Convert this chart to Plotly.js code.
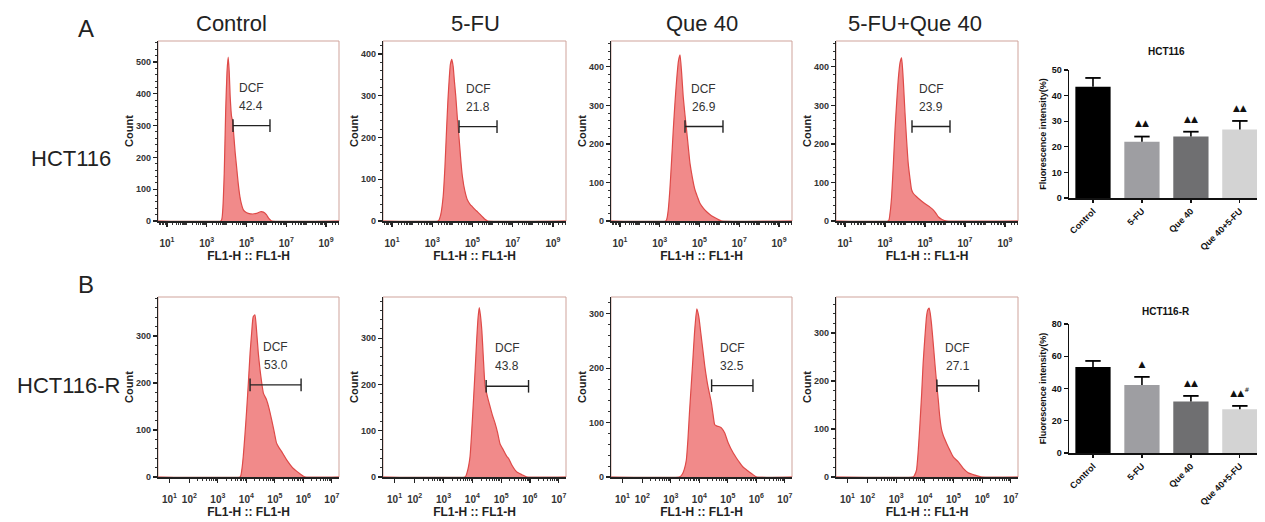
<!DOCTYPE html>
<html>
<head>
<meta charset="utf-8">
<script src="https://cdn.plot.ly/plotly-3.0.1.min.js"></script>
<style>html,body{margin:0;padding:0;background:#fff;}#chart{width:1265px;height:522px;}</style>
</head>
<body>
<div id="chart"></div>
<script>
// ---------- DATA ----------
const columnTitles = ["Control", "5-FU", "Que 40", "5-FU+Que 40"];
const rowTitles = ["HCT116", "HCT116-R"];
const panelLetters = ["A", "B"];

// Histograms: x = log10(FL1-H), y = Count
const hct116ControlX = [0.55, 3.72, 3.8, 3.88, 3.95, 4.02, 4.08, 4.13, 4.18, 4.25, 4.3, 4.36, 4.43, 4.5, 4.58, 4.67, 4.75, 4.84, 4.95, 5.09, 5.3, 5.5, 5.7, 5.85, 6.0, 6.12, 6.26, 9.65];
const hct116ControlY = [0, 0, 30, 150, 340, 470, 515, 470, 390, 328, 315, 270, 215, 171, 120, 76, 52, 35, 28, 24, 22, 24, 29, 28, 20, 8, 0, 0];
const hct116FuX = [0.55, 3.3, 3.42, 3.54, 3.63, 3.71, 3.78, 3.84, 3.9, 3.97, 4.04, 4.1, 4.17, 4.25, 4.34, 4.42, 4.5, 4.62, 4.75, 4.88, 5.0, 5.12, 5.25, 5.38, 5.5, 5.62, 5.75, 9.65];
const hct116FuY = [0, 0, 15, 58, 130, 218, 290, 338, 375, 387, 370, 335, 298, 245, 194, 145, 106, 72, 50, 40, 34, 28, 22, 16, 10, 4, 0, 0];
const hct116QueX = [0.55, 3.31, 3.42, 3.51, 3.6, 3.68, 3.77, 3.85, 3.94, 4.02, 4.1, 4.18, 4.27, 4.35, 4.44, 4.52, 4.65, 4.77, 4.9, 5.02, 5.2, 5.36, 5.52, 5.69, 5.9, 6.11, 9.65];
const hct116QueY = [0, 0, 25, 81, 160, 236, 310, 366, 415, 431, 385, 323, 275, 236, 190, 150, 110, 81, 62, 46, 33, 24, 17, 11, 5, 0, 0];
const hct116ComboX = [0.55, 3.17, 3.25, 3.33, 3.42, 3.5, 3.58, 3.66, 3.75, 3.83, 3.92, 4.0, 4.08, 4.16, 4.25, 4.33, 4.41, 4.58, 4.75, 4.92, 5.08, 5.25, 5.41, 5.55, 5.66, 5.85, 6.08, 9.65];
const hct116ComboY = [0, 0, 20, 63, 150, 236, 305, 366, 410, 423, 360, 280, 210, 150, 110, 81, 72, 63, 55, 48, 42, 36, 29, 20, 11, 4, 0, 0];

const hctRControlX = [0.9, 3.78, 3.84, 3.89, 3.95, 4.01, 4.07, 4.13, 4.19, 4.24, 4.3, 4.36, 4.42, 4.48, 4.54, 4.6, 4.71, 4.8, 4.89, 4.98, 5.06, 5.15, 5.24, 5.33, 5.42, 5.54, 5.65, 5.77, 5.88, 6.06, 7.25];
const hctRControlY = [0, 0, 15, 43, 90, 142, 200, 263, 310, 341, 345, 310, 263, 228, 200, 178, 164, 145, 121, 95, 72, 62, 54, 45, 36, 26, 18, 12, 7, 0, 0];
const hctRFuX = [0.9, 3.75, 3.84, 3.92, 3.98, 4.04, 4.1, 4.15, 4.2, 4.24, 4.28, 4.33, 4.38, 4.44, 4.53, 4.62, 4.7, 4.79, 4.88, 4.96, 5.08, 5.2, 5.26, 5.37, 5.54, 5.72, 5.89, 7.25];
const hctRFuY = [0, 0, 15, 44, 100, 166, 235, 295, 345, 366, 350, 316, 260, 198, 172, 151, 133, 116, 95, 72, 58, 44, 40, 26, 11, 5, 0, 0];
const hctRQueX = [0.9, 3.3, 3.4, 3.47, 3.54, 3.6, 3.65, 3.71, 3.77, 3.83, 3.91, 3.98, 4.05, 4.12, 4.19, 4.3, 4.42, 4.48, 4.54, 4.6, 4.66, 4.72, 4.78, 4.89, 5.01, 5.19, 5.3, 5.42, 5.54, 5.66, 5.84, 6.01, 7.25];
const hctRQueY = [0, 0, 5, 14, 30, 70, 116, 165, 214, 265, 309, 295, 265, 235, 204, 167, 137, 115, 96, 94, 93, 92, 90, 81, 63, 44, 35, 26, 18, 13, 6, 0, 0];
const hctRComboX = [0.9, 3.59, 3.65, 3.71, 3.77, 3.83, 3.89, 3.94, 4.0, 4.06, 4.1, 4.15, 4.19, 4.23, 4.29, 4.35, 4.41, 4.47, 4.52, 4.58, 4.64, 4.76, 4.87, 4.99, 5.16, 5.34, 5.51, 5.74, 5.98, 7.25];
const hctRComboY = [0, 0, 5, 15, 55, 112, 175, 237, 290, 335, 348, 352, 340, 320, 280, 237, 196, 160, 126, 100, 87, 70, 56, 42, 32, 18, 9, 4, 0, 0];

// DCF gates (log10 FL1-H bounds, count level) and gated percentages
const gateLow = [[4.32, 4.33, 4.27, 4.35], [4.13, 4.48, 4.43, 4.42]];
const gateHigh = [[6.18, 6.22, 6.18, 6.25], [5.92, 5.95, 5.88, 5.88]];
const gateLevel = [[300, 226, 245, 245], [196, 196, 168, 190]];
const dcfPercent = [["42.4", "21.8", "26.9", "23.9"], ["53.0", "43.8", "32.5", "27.1"]];

// Axis tick labels
const topTickVals = [1, 3, 5, 7, 9];
const topTickText = ["10<sup>1</sup>", "10<sup>3</sup>", "10<sup>5</sup>", "10<sup>7</sup>", "10<sup>9</sup>"];
const botTickVals = [1.3, 2, 3, 4, 5, 6, 7];
const botTickText = ["10<sup>1</sup>", "10<sup>2</sup>", "10<sup>3</sup>", "10<sup>4</sup>", "10<sup>5</sup>", "10<sup>6</sup>", "10<sup>7</sup>"];

// Bar charts
const barCategories = ["Control", "5-FU", "Que 40", "Que 40+5-FU"];
const hct116Mean = [43.5, 22.0, 24.0, 26.8];
const hct116Err = [3.4, 2.0, 1.9, 3.3];
const hct116Sig = ["", "▲▲", "▲▲", "▲▲"];
const hctRMean = [53.4, 42.2, 31.9, 27.1];
const hctRErr = [3.7, 5.0, 3.5, 2.1];
const hctRSig = ["", "▲", "▲▲", "▲▲<sup>#</sup>"];
const barColors = ["#000000", "#9e9ea2", "#6f6f71", "#d3d3d3"];

// ---------- LAYOUT HELPERS ----------
const W = 1265, H = 522;
const px = v => v / W;
const py = v => 1 - v / H;
const FONT = "Liberation Sans, Arial, Helvetica, sans-serif";

const histX = [[hct116ControlX, hct116FuX, hct116QueX, hct116ComboX], [hctRControlX, hctRFuX, hctRQueX, hctRComboX]];
const histY = [[hct116ControlY, hct116FuY, hct116QueY, hct116ComboY], [hctRControlY, hctRFuY, hctRQueY, hctRComboY]];

const colPx = [[158, 339], [383, 566], [611, 792], [836, 1018]];
const rowPx = [[41, 221], [297, 477]];
const yTop = [[566, 431, 467, 467], [383, 389, 331, 375]];
const xRanges = [[0.55, 9.65], [0.9, 7.25]];

function minorTicks(lo, hi, startDec) {
  const out = [];
  for (let d = startDec; d <= 9; d++) {
    for (let k = 1; k <= 9; k++) {
      const v = d + Math.log10(k);
      if (v > lo && v < hi) out.push(v);
    }
  }
  return out;
}

const traces = [];
const layout = {
  width: W, height: H,
  margin: {l: 0, r: 0, t: 0, b: 0},
  paper_bgcolor: "#fff", plot_bgcolor: "#fff",
  showlegend: false,
  font: {family: FONT, color: "#222"},
  annotations: [], shapes: []
};

function paperText(x, y, text, font) {
  return {xref: "paper", yref: "paper", x: px(x), y: py(y), xanchor: "center", yanchor: "middle",
          text: text, showarrow: false, font: font};
}

let ax = 0;
for (let r = 0; r < 2; r++) {
  for (let c = 0; c < 4; c++) {
    ax++;
    const xn = ax === 1 ? "x" : "x" + ax;
    const yn = ax === 1 ? "y" : "y" + ax;
    const xk = ax === 1 ? "xaxis" : "xaxis" + ax;
    const yk = ax === 1 ? "yaxis" : "yaxis" + ax;

    traces.push({
      type: "scatter", mode: "lines", x: histX[r][c], y: histY[r][c],
      xaxis: xn, yaxis: yn, fill: "tozeroy",
      fillcolor: "rgba(240,125,125,0.9)",
      line: {color: "#de4a48", width: 1.2, shape: "spline", smoothing: 0.5},
      hoverinfo: "skip"
    });
    // gate
    traces.push({
      type: "scatter", mode: "lines+markers",
      x: [gateLow[r][c], gateHigh[r][c]], y: [gateLevel[r][c], gateLevel[r][c]],
      xaxis: xn, yaxis: yn,
      line: {color: "#222", width: 1.4},
      marker: {symbol: "line-ns-open", size: 9, color: "#222", line: {color: "#222", width: 1.4}},
      hoverinfo: "skip"
    });
    const gx = (gateLow[r][c] + gateHigh[r][c]) / 2;
    layout.annotations.push({
      xref: xn, yref: yn, x: gx, y: gateLevel[r][c], text: "DCF", xanchor: "center", yanchor: "middle",
      showarrow: false, yshift: 38, font: {size: 12, color: "#333", family: FONT}
    });
    layout.annotations.push({
      xref: xn, yref: yn, x: gx, y: gateLevel[r][c], text: dcfPercent[r][c], xanchor: "center", yanchor: "middle",
      showarrow: false, yshift: 20, font: {size: 12, color: "#333", family: FONT}
    });

    const isTop = r === 0;
    layout[xk] = {
      domain: [px(colPx[c][0]), px(colPx[c][1])],
      anchor: yn, range: xRanges[r],
      tickmode: "array",
      tickvals: isTop ? topTickVals : botTickVals,
      ticktext: isTop ? topTickText : botTickText,
      ticks: "outside", ticklen: 4, tickwidth: 1.2, tickcolor: "#222",
      ticklabelstandoff: 8,
      minor: {tickmode: "array", tickvals: minorTicks(xRanges[r][0], xRanges[r][1], isTop ? 0 : 2), ticks: "outside", ticklen: 2, tickwidth: 1, tickcolor: "#333"},
      showline: true, linecolor: "#222", linewidth: 1.5,
      showgrid: false, zeroline: false, layer: "below traces",
      tickfont: {family: FONT, size: 10, color: "#333", weight: 700},
      title: {text: "FL1-H :: FL1-H", font: {family: FONT, size: 12, color: "#222", weight: 700}, standoff: 4},
      fixedrange: true
    };
    layout[yk] = {
      domain: [py(rowPx[r][1]), py(rowPx[r][0])],
      anchor: xn, range: [0, yTop[r][c]],
      dtick: 100, tick0: 0,
      ticks: "outside", ticklen: 4, tickwidth: 1.2, tickcolor: "#222",
      minor: {dtick: 20, ticks: "outside", ticklen: 2, tickwidth: 1, tickcolor: "#333"},
      showline: true, linecolor: "#222", linewidth: 1.2,
      showgrid: false, zeroline: false, layer: "below traces",
      tickfont: {family: FONT, size: 9, color: "#333", weight: 700},
      title: {text: "Count", font: {family: FONT, size: 11, color: "#222", weight: 700}, standoff: 0},
      fixedrange: true
    };
    layout.shapes.push({
      type: "rect", xref: xn + " domain", yref: yn + " domain",
      x0: 0, x1: 1, y0: 0, y1: 1, line: {color: "#cfa39b", width: 1}, layer: "below"
    });
  }
}

// Column titles, row titles, panel letters
const colCenters = [231, 475, 702, 915];
columnTitles.forEach((t, i) => layout.annotations.push(
  paperText(colCenters[i], 23, t, {size: 22, color: "#222", family: FONT})));
const rowCenters = [[71, 158], [69, 385]];
rowTitles.forEach((t, i) => layout.annotations.push(
  paperText(rowCenters[i][0], rowCenters[i][1], t, {size: 22, color: "#222", family: FONT})));
const letterY = [28, 284];
panelLetters.forEach((t, i) => layout.annotations.push(
  paperText(86, letterY[i], t, {size: 24, color: "#222", family: FONT})));

// ---------- BAR CHARTS ----------
const barSets = [
  {mean: hct116Mean, err: hct116Err, sig: hct116Sig, title: "HCT116", y: [70, 198], range: [0, 50], dtick: 10, titleY: 51},
  {mean: hctRMean, err: hctRErr, sig: hctRSig, title: "HCT116-R", y: [324, 453], range: [0, 80], dtick: 20, titleY: 311}
];
barSets.forEach((b, i) => {
  ax++;
  const xn = "x" + ax, yn = "y" + ax;
  traces.push({
    type: "bar", x: barCategories, y: b.mean, xaxis: xn, yaxis: yn,
    marker: {color: barColors, line: {width: 0}}, hoverinfo: "skip"
  });
  traces.push({
    type: "scatter", mode: "markers+text", x: barCategories,
    y: b.mean.map((m, k) => m + b.err[k]), xaxis: xn, yaxis: yn,
    marker: {symbol: "line-ew-open", size: 11, color: "#000", line: {color: "#000", width: 1.8}},
    error_y: {type: "data", symmetric: false, array: b.err.map(() => 0), arrayminus: b.err, width: 0, thickness: 1.6, color: "#000"},
    text: b.sig, textposition: "top center",
    textfont: {family: "DejaVu Sans, sans-serif", size: 9, color: "#111"},
    hoverinfo: "skip"
  });
  layout["xaxis" + ax] = {
    domain: [px(1069), px(1257)], anchor: yn, range: [-0.49, 3.35],
    tickangle: -45, ticks: "outside", ticklen: 3, tickwidth: 1.2, tickcolor: "#111",
    showline: true, linecolor: "#111", linewidth: 1.5, showgrid: false, zeroline: false,
    tickfont: {family: FONT, size: 9, color: "#111", weight: 700}, fixedrange: true
  };
  layout["yaxis" + ax] = {
    domain: [py(b.y[1]), py(b.y[0])], anchor: xn, range: b.range, dtick: b.dtick,
    ticks: "outside", ticklen: 4, tickwidth: 1.2, tickcolor: "#111",
    showline: true, linecolor: "#111", linewidth: 1.5, showgrid: false, zeroline: false,
    tickfont: {family: FONT, size: 9, color: "#111", weight: 700},
    title: {text: "Fluorescence intensity(%)", font: {family: FONT, size: 9, color: "#111", weight: 700}, standoff: 3},
    fixedrange: true
  };
  layout.annotations.push(paperText(1166, b.titleY, b.title, {family: FONT, size: 10, color: "#111", weight: 700}));
});
layout.bargap = 0.28;

Plotly.newPlot("chart", traces, layout, {staticPlot: true, displayModeBar: false});
</script>
</body>
</html>
